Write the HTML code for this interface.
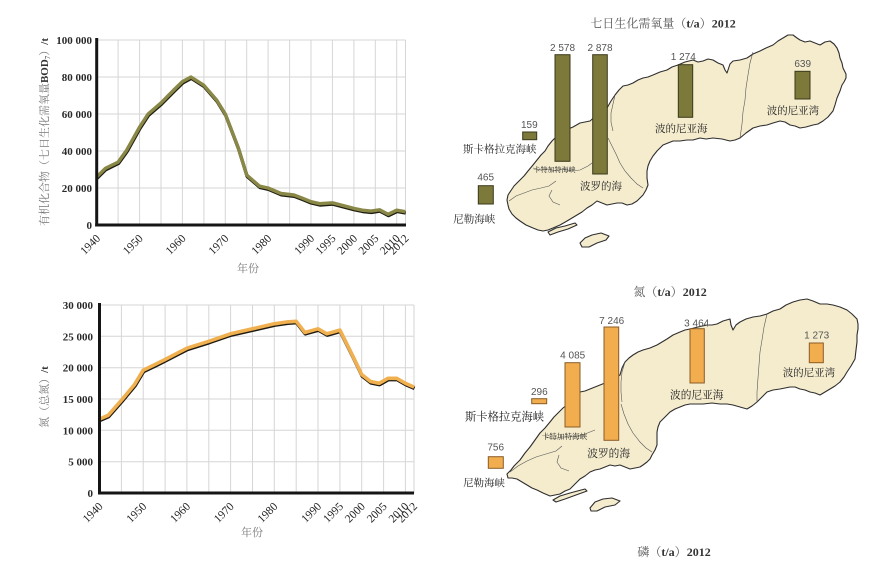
<!DOCTYPE html>
<html><head><meta charset="utf-8"><style>
html,body{margin:0;padding:0;background:#fff;}
svg{display:block;}
.tk{font-family:"Liberation Serif",serif;font-size:11px;font-weight:bold;fill:#2a2a2a;}
.yr{font-family:"Liberation Serif",serif;font-size:11.5px;fill:#222;}
.ax{font-family:"Liberation Serif","Noto Serif CJK SC",serif;font-size:11px;fill:#777;}
.num{font-family:"Liberation Sans",sans-serif;font-size:10px;fill:#555;}
.lab{font-family:"Liberation Serif","Noto Serif CJK SC",serif;fill:#222;}
.ttl{font-family:"Liberation Serif","Noto Serif CJK SC",serif;font-size:12px;fill:#555;}
.g{stroke:#d6d6d6;stroke-width:1;fill:none;}
.land{fill:#f5ecce;stroke:#2e2e2e;stroke-width:1.1;stroke-linejoin:round;}
.bd{fill:none;stroke:#555;stroke-width:0.6;}
.bo{fill:#7c793b;stroke:#3a391a;stroke-width:1;}
.bn{fill:#f2ad4f;stroke:#8a5c26;stroke-width:1;}
</style></head><body>
<svg width="874" height="565" viewBox="0 0 874 565" xmlns="http://www.w3.org/2000/svg">
<rect width="874" height="565" fill="#fff"/>

<!-- ===== Chart 1 (BOD) ===== -->
<g>
<g class="g">
<line x1="118.1" y1="40" x2="118.1" y2="225"/><line x1="139.6" y1="40" x2="139.6" y2="225"/>
<line x1="161.0" y1="40" x2="161.0" y2="225"/><line x1="182.4" y1="40" x2="182.4" y2="225"/>
<line x1="203.9" y1="40" x2="203.9" y2="225"/><line x1="225.3" y1="40" x2="225.3" y2="225"/>
<line x1="246.7" y1="40" x2="246.7" y2="225"/><line x1="268.1" y1="40" x2="268.1" y2="225"/>
<line x1="289.6" y1="40" x2="289.6" y2="225"/><line x1="311.0" y1="40" x2="311.0" y2="225"/>
<line x1="332.4" y1="40" x2="332.4" y2="225"/><line x1="353.9" y1="40" x2="353.9" y2="225"/>
<line x1="375.3" y1="40" x2="375.3" y2="225"/><line x1="396.7" y1="40" x2="396.7" y2="225"/>
<line x1="405.5" y1="40" x2="405.5" y2="225"/>
<line x1="96.7" y1="40" x2="405.5" y2="40"/><line x1="96.7" y1="77" x2="405.5" y2="77"/>
<line x1="96.7" y1="114" x2="405.5" y2="114"/><line x1="96.7" y1="151" x2="405.5" y2="151"/>
<line x1="96.7" y1="188" x2="405.5" y2="188"/>
</g>
<polyline transform="translate(0.4,1.3)" fill="none" stroke="#1e1e10" stroke-width="3.4" stroke-linejoin="round" points="96.7,176.9 105.3,168.4 118.1,162.1 126.7,150.1 139.6,127 148.1,114 161.0,102.9 173.8,90 182.4,81.6 191.0,77 203.9,85.3 216.7,100.1 225.3,114 238.1,147.3 246.7,175 259.6,186.2 268.1,188 281.0,193.5 293.9,195 302.4,198.2 311.0,201.7 319.6,203.7 332.4,202.8 341.0,205 353.9,208.4 362.4,210.2 371.0,211.1 379.6,209.8 388.1,214.3 396.7,210.2 405.3,211.7"/>
<polyline fill="none" stroke="#8a8847" stroke-width="3.4" stroke-linejoin="round" points="96.7,176.9 105.3,168.4 118.1,162.1 126.7,150.1 139.6,127 148.1,114 161.0,102.9 173.8,90 182.4,81.6 191.0,77 203.9,85.3 216.7,100.1 225.3,114 238.1,147.3 246.7,175 259.6,186.2 268.1,188 281.0,193.5 293.9,195 302.4,198.2 311.0,201.7 319.6,203.7 332.4,202.8 341.0,205 353.9,208.4 362.4,210.2 371.0,211.1 379.6,209.8 388.1,214.3 396.7,210.2 405.3,211.7"/>
<line x1="96.7" y1="38" x2="96.7" y2="226.5" stroke="#151515" stroke-width="3"/>
<line x1="95.2" y1="225" x2="406" y2="225" stroke="#151515" stroke-width="3"/>
<g class="tk" text-anchor="end">
<text x="92" y="44">100 000</text><text x="92" y="81">80 000</text>
<text x="92" y="118">60 000</text><text x="92" y="155">40 000</text>
<text x="92" y="192">20 000</text><text x="92" y="229">0</text>
</g>
<g class="yr" text-anchor="end">
<text transform="translate(101,239) rotate(-45)">1940</text>
<text transform="translate(143.6,239) rotate(-45)">1950</text>
<text transform="translate(186.4,239) rotate(-45)">1960</text>
<text transform="translate(229.3,239) rotate(-45)">1970</text>
<text transform="translate(272.1,239) rotate(-45)">1980</text>
<text transform="translate(315,239) rotate(-45)">1990</text>
<text transform="translate(336.4,239) rotate(-45)">1995</text>
<text transform="translate(357.9,239) rotate(-45)">2000</text>
<text transform="translate(379.3,239) rotate(-45)">2005</text>
<text transform="translate(400.7,239) rotate(-45)">2010</text>
<text transform="translate(409.5,239) rotate(-45)">2012</text>
</g>
<text class="ax" x="248" y="272" text-anchor="middle">年份</text>
<text class="ax" transform="translate(48,132) rotate(-90)" text-anchor="middle">有机化合物（七日生化需氧量<tspan font-weight="bold" fill="#333">BOD</tspan><tspan font-size="7" dy="2" fill="#333">7</tspan><tspan dy="-2">）</tspan><tspan font-weight="bold" fill="#333">/t</tspan></text>
</g>

<!-- ===== Chart 2 (N) ===== -->
<g>
<g class="g">
<line x1="121.4" y1="305" x2="121.4" y2="493"/><line x1="143.2" y1="305" x2="143.2" y2="493"/>
<line x1="165.1" y1="305" x2="165.1" y2="493"/><line x1="186.9" y1="305" x2="186.9" y2="493"/>
<line x1="208.8" y1="305" x2="208.8" y2="493"/><line x1="230.6" y1="305" x2="230.6" y2="493"/>
<line x1="252.5" y1="305" x2="252.5" y2="493"/><line x1="274.3" y1="305" x2="274.3" y2="493"/>
<line x1="296.2" y1="305" x2="296.2" y2="493"/><line x1="318.0" y1="305" x2="318.0" y2="493"/>
<line x1="339.9" y1="305" x2="339.9" y2="493"/><line x1="361.7" y1="305" x2="361.7" y2="493"/>
<line x1="383.6" y1="305" x2="383.6" y2="493"/><line x1="405.4" y1="305" x2="405.4" y2="493"/>
<line x1="414" y1="305" x2="414" y2="493"/>
<line x1="99.5" y1="305" x2="414" y2="305"/><line x1="99.5" y1="336.3" x2="414" y2="336.3"/>
<line x1="99.5" y1="367.7" x2="414" y2="367.7"/><line x1="99.5" y1="399" x2="414" y2="399"/>
<line x1="99.5" y1="430.3" x2="414" y2="430.3"/><line x1="99.5" y1="461.7" x2="414" y2="461.7"/>
</g>
<polyline transform="translate(0.4,1.3)" fill="none" stroke="#1e1a12" stroke-width="3.6" stroke-linejoin="round" points="99.5,419.1 108.2,415.3 121.4,400.3 134.5,384.6 143.2,370.2 156.3,363.9 165.1,359.5 186.9,348.2 208.8,341.3 230.6,333.8 252.5,328.8 274.3,323.8 287.4,321.9 296.2,321.3 304.9,332.5 318.0,328.8 326.8,333.8 339.9,330.1 353.0,356.4 361.7,374.6 370.5,381.5 379.2,383.3 388.0,378.3 396.7,378.3 405.4,383.3 414.1,387.1"/>
<polyline fill="none" stroke="#f0b04f" stroke-width="3.6" stroke-linejoin="round" points="99.5,419.1 108.2,415.3 121.4,400.3 134.5,384.6 143.2,370.2 156.3,363.9 165.1,359.5 186.9,348.2 208.8,341.3 230.6,333.8 252.5,328.8 274.3,323.8 287.4,321.9 296.2,321.3 304.9,332.5 318.0,328.8 326.8,333.8 339.9,330.1 353.0,356.4 361.7,374.6 370.5,381.5 379.2,383.3 388.0,378.3 396.7,378.3 405.4,383.3 414.1,387.1"/>
<line x1="99.5" y1="303" x2="99.5" y2="494.5" stroke="#151515" stroke-width="3"/>
<line x1="98" y1="493" x2="414" y2="493" stroke="#151515" stroke-width="3"/>
<g class="tk" text-anchor="end">
<text x="93" y="309">30 000</text><text x="93" y="340.3">25 000</text>
<text x="93" y="371.7">20 000</text><text x="93" y="403">15 000</text>
<text x="93" y="434.3">10 000</text><text x="93" y="465.7">5 000</text>
<text x="93" y="497">0</text>
</g>
<g class="yr" text-anchor="end">
<text transform="translate(103.5,507) rotate(-45)">1940</text>
<text transform="translate(147.2,507) rotate(-45)">1950</text>
<text transform="translate(190.9,507) rotate(-45)">1960</text>
<text transform="translate(234.6,507) rotate(-45)">1970</text>
<text transform="translate(278.3,507) rotate(-45)">1980</text>
<text transform="translate(322,507) rotate(-45)">1990</text>
<text transform="translate(343.9,507) rotate(-45)">1995</text>
<text transform="translate(365.7,507) rotate(-45)">2000</text>
<text transform="translate(387.6,507) rotate(-45)">2005</text>
<text transform="translate(409.4,507) rotate(-45)">2010</text>
<text transform="translate(418,507) rotate(-45)">2012</text>
</g>
<text class="ax" x="252" y="536" text-anchor="middle">年份</text>
<text class="ax" transform="translate(48,397) rotate(-90)" text-anchor="middle">氮（总氮）<tspan font-weight="bold" fill="#333">/t</tspan></text>
</g>

<!-- ===== Map 1 ===== -->
<g>
<text class="ttl" x="663" y="27.5" text-anchor="middle">七日生化需氧量（<tspan font-weight="bold" fill="#333">t/a</tspan>）<tspan font-weight="bold" fill="#333">2012</tspan></text>
<polygon class="land" points="508,195 512,189 514,186 519,181 524,176 528,171 533,165 537,160 541,155 545,151 548,146 552,141 556,137 561,133 566,130 573,127 580,123 585,122 590,121 597,115 603,112 607,108 611,101 615,95 619,90 623,86 628,85 633,83 638,80 643,78 648,77 653,75 660,72 667,70 672,67 678,65 685,62 693,60 698,62 703,61 708,59 713,60 718,63 723,65 725,70 727,73 729,67 730,64 733,61 740,60 747,58 753,54 760,51 766,48 773,45 778,41 783,38 788,35 793,35 797,38 800,40 805,42 810,41 815,43 820,45 825,42 830,41 834,44 837,48 839,53 840,58 842,63 843,68 846,74 846,78 844,82 842,85 840,91 837,98 835,105 833,111 828,117 823,121 818,124 813,125 806,127 800,128 795,126 790,125 785,122 780,121 773,123 767,125 760,126 753,128 746,133 740,138 735,140 730,141 722,139 713,138 706,139 700,138 693,140 687,140 680,141 673,141 668,143 663,145 660,148 657,151 653,156 650,161 648,166 647,171 647,178 648,185 646,190 643,195 640,198 637,201 632,204 627,205 622,203 617,203 612,204 607,205 602,203 597,201 592,205 587,208 582,212 577,215 572,218 567,221 560,225 553,228 548,230 543,231 538,230 533,228 526,225 520,221 516,218 512,214 509,209 508,205 507,200"/>
<polygon class="land" points="548,232 556,228 565,226 575,223 577,225 568,229 558,232 550,235"/>
<polygon class="land" points="580,243 585,238 592,235 601,233 609,236 606,240 597,243 589,247 582,247"/>
<g class="bd">
<polyline points="533,168 541,170 548,169 556,171 563,169 571,171 580,170 588,166 592,163"/>
<polyline points="608,138 612,146 616,154 620,163 625,171 631,178 637,184 643,188"/>
<polyline points="753,52 750,63 748,75 746,88 745,100 743,112 742,124 740,138"/>
<polyline points="615,95 613,104 611,113 611,122 613,131"/>
<polyline points="509,201 516,196 524,193 532,190 541,188 549,186 556,181"/>
<polyline points="552,190 549,196 553,202 560,205"/>
</g>
<rect class="bo" x="478.3" y="185.7" width="15" height="18.3"/>
<rect class="bo" x="522.7" y="132" width="14" height="7.7"/>
<rect class="bo" x="555" y="54.7" width="15" height="106.6"/>
<rect class="bo" x="592.7" y="54.7" width="14.6" height="119.3"/>
<rect class="bo" x="678.3" y="64.7" width="14.4" height="52.6"/>
<rect class="bo" x="795" y="71.3" width="15" height="27.7"/>
<g class="num" text-anchor="middle">
<text x="562.5" y="51">2 578</text><text x="600" y="51">2 878</text>
<text x="683.3" y="60">1 274</text><text x="802.7" y="67">639</text>
<text x="529.3" y="128">159</text><text x="485.7" y="180.5">465</text>
</g>
<g class="lab">
<text x="463" y="152.5" font-size="10.5">斯卡格拉克海峡</text>
<text x="533.5" y="172" font-size="7">卡特加特海峡</text>
<text x="580" y="189.5" font-size="10.5">波罗的海</text>
<text x="655" y="132" font-size="10.5">波的尼亚海</text>
<text x="766.7" y="114" font-size="10.5">波的尼亚湾</text>
<text x="453.3" y="222.5" font-size="10.5">尼勒海峡</text>
</g>
</g>

<!-- ===== Map 2 ===== -->
<g>
<text class="ttl" x="670" y="296" text-anchor="middle">氮（<tspan font-weight="bold" fill="#333">t/a</tspan>）<tspan font-weight="bold" fill="#333">2012</tspan></text>
<polygon class="land" points="507,474 511,470 514,466 517,463 520,460 525,453 530,447 535,440 540,433 545,428 550,422 554,417 558,413 563,408 568,404 574,398 580,392 585,391 590,389 595,387 600,385 605,383 610,380 615,378 620,375 622,368 625,362 629,358 633,355 638,352 643,350 650,348 657,345 662,342 667,339 673,335 680,332 685,330 690,329 698,327 707,325 712,325 717,324 723,321 730,319 731,325 733,330 736,325 740,322 746,319 753,317 760,316 767,314 773,311 780,309 786,305 793,302 800,300 807,299 813,301 820,304 827,304 833,305 840,307 847,310 852,314 857,319 858,324 858,329 857,335 857,342 856,350 855,359 851,366 847,372 844,377 840,382 835,386 830,389 825,392 820,395 815,393 810,392 805,390 800,389 795,387 790,387 785,388 780,389 773,390 767,392 762,397 757,402 752,406 747,409 740,407 733,405 727,404 720,404 712,403 703,404 697,404 690,404 685,405 680,407 675,409 670,412 665,417 660,422 658,427 657,432 657,438 657,445 655,450 652,455 650,459 647,462 643,465 640,467 635,468 630,469 625,467 620,465 615,466 610,465 605,467 600,469 595,470 590,472 585,476 580,479 575,484 570,489 565,491 560,494 555,495 550,496 543,493 537,490 532,488 527,485 522,482 517,479 512,478 508,478"/>
<polygon class="land" points="553,500 560,496 570,493 585,489 587,491 576,495 565,499 556,502"/>
<polygon class="land" points="590,508 595,502 603,499 612,498 620,501 615,505 605,507 597,511 591,511"/>
<g class="bd">
<polyline points="546,437 553,439 561,437 569,437 577,436 585,434 595,430"/>
<polyline points="621,404 624,414 628,424 633,433 640,442 646,448 652,452"/>
<polyline points="767,314 764,327 762,340 760,352 759,365 758,378 757,392 757,402"/>
<polyline points="625,362 622,372 621,382 621,392 622,402"/>
<polyline points="510,472 518,466 527,461 536,457 546,454 556,451 562,446"/>
<polyline points="559,455 557,462 561,468 569,471"/>
</g>
<rect class="bn" x="488.3" y="456.7" width="15" height="11.6"/>
<rect class="bn" x="531.7" y="398.7" width="15" height="5"/>
<rect class="bn" x="565" y="362.7" width="15" height="64.3"/>
<rect class="bn" x="604" y="327" width="14.7" height="113.3"/>
<rect class="bn" x="690" y="328.7" width="14.3" height="54.3"/>
<rect class="bn" x="809.3" y="343" width="14" height="19.7"/>
<g class="num" text-anchor="middle">
<text x="572.7" y="358.5">4 085</text><text x="611.7" y="324">7 246</text>
<text x="696.7" y="326.5">3 464</text><text x="816.7" y="338.5">1 273</text>
<text x="539.3" y="395">296</text><text x="495.7" y="450.5">756</text>
</g>
<g class="lab">
<text x="465" y="420.5" font-size="11.3">斯卡格拉克海峡</text>
<text x="541.7" y="439" font-size="7.6">卡特加特海峡</text>
<text x="587.3" y="457" font-size="10.7">波罗的海</text>
<text x="670" y="398.5" font-size="10.7">波的尼亚海</text>
<text x="782.7" y="376" font-size="10.5">波的尼亚湾</text>
<text x="463.3" y="486.5" font-size="10.4">尼勒海峡</text>
</g>
<text class="ttl" x="674" y="556" text-anchor="middle">磷（<tspan font-weight="bold" fill="#333">t/a</tspan>）<tspan font-weight="bold" fill="#333">2012</tspan></text>
</g>
</svg>
</body></html>
